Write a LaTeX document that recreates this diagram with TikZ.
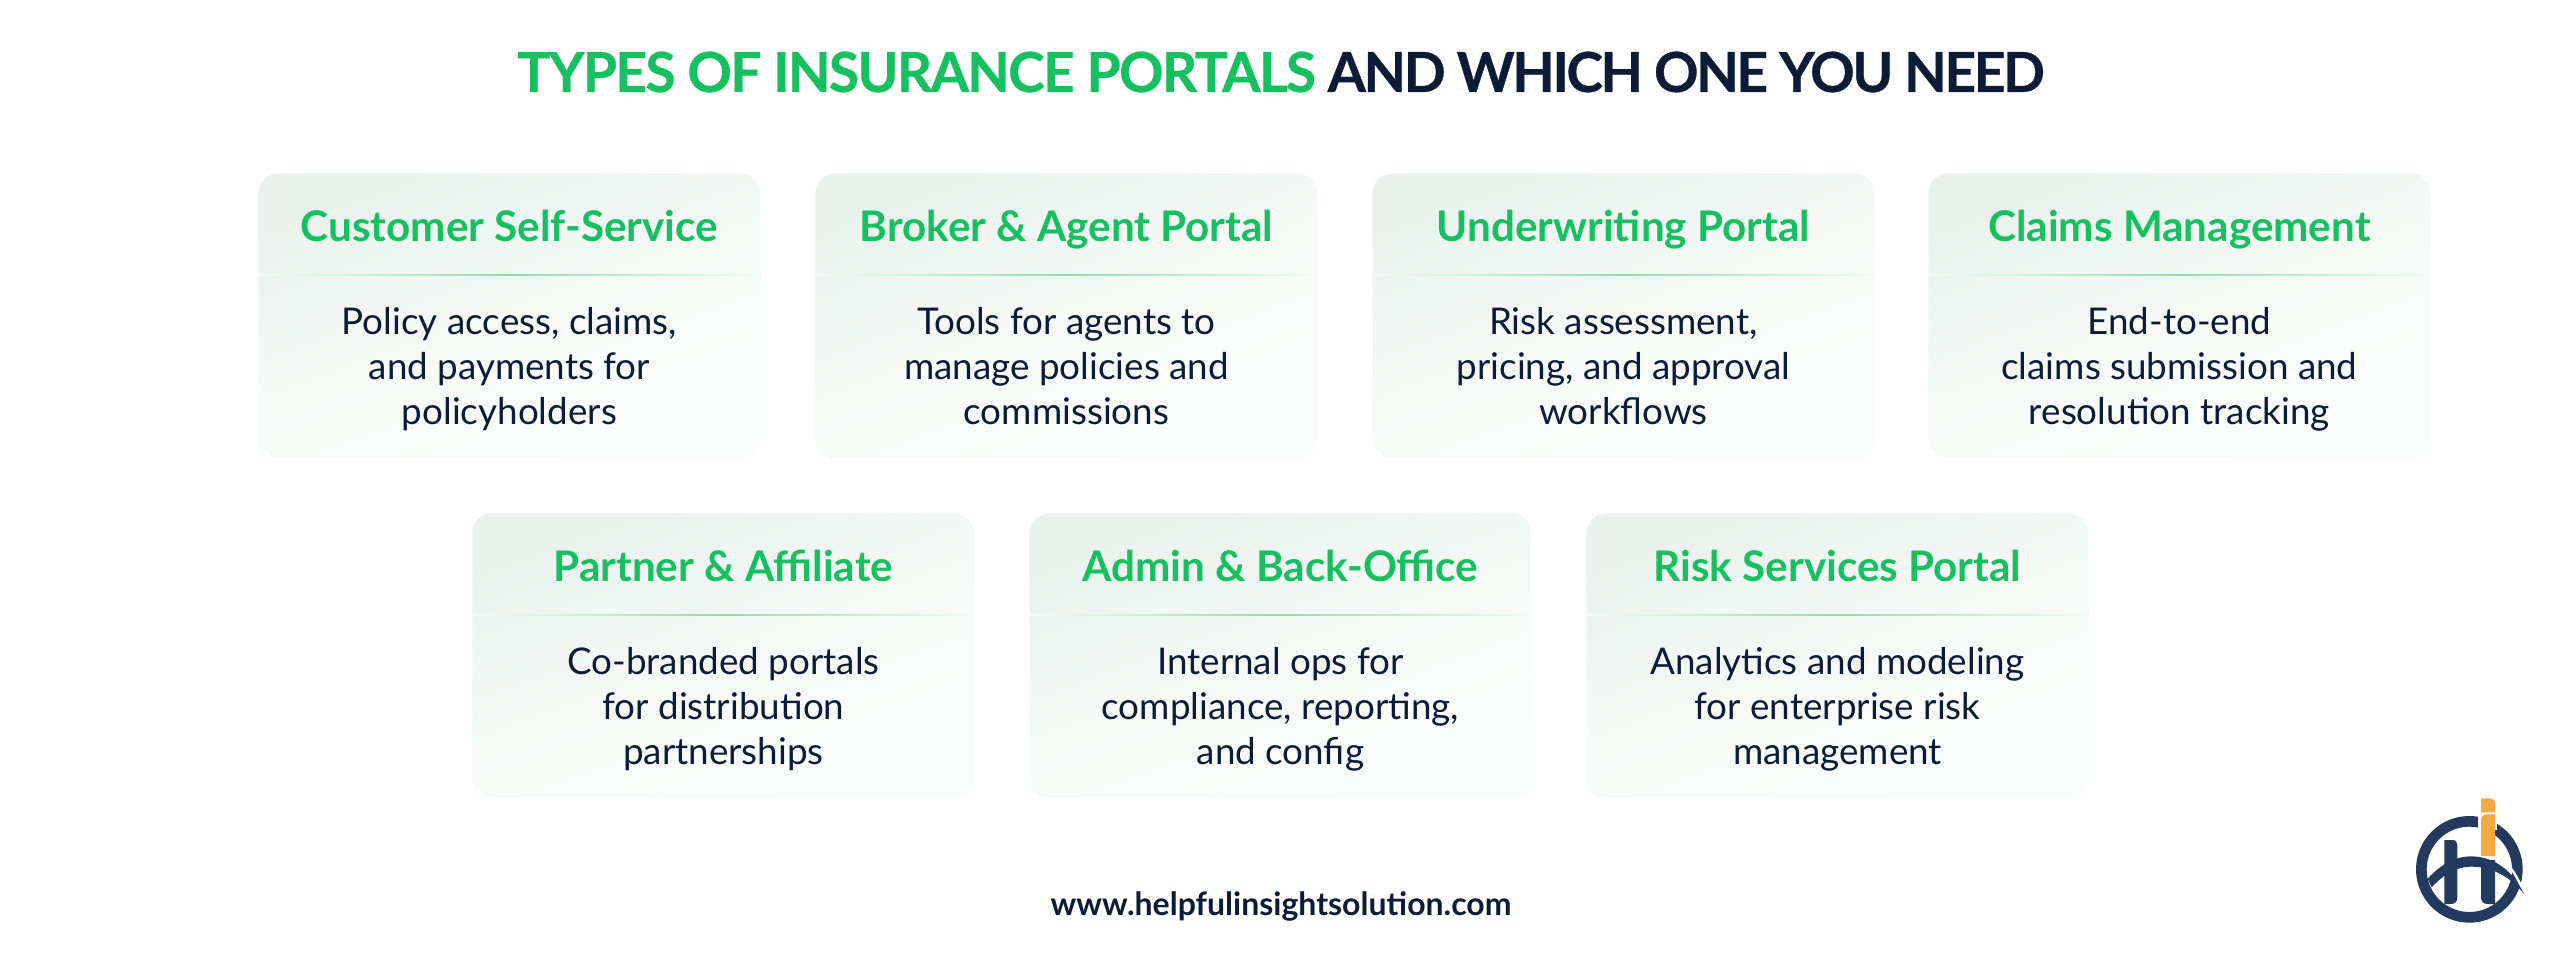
\documentclass[tikz,border=0pt]{standalone}
\usepackage{fontspec}
\setmainfont{Lato}
\newfontfamily\titlegreen[LetterSpace=-3.05,FakeBold=0.5]{Lato Bold}
\newfontfamily\titledark[LetterSpace=-4.4,FakeBold=0.5]{Lato Bold}
\usetikzlibrary{positioning}
\definecolor{grn}{HTML}{16BF5F}
\definecolor{ink}{HTML}{0C1C36}
\definecolor{navy}{HTML}{23395D}
\definecolor{org}{HTML}{F3A93F}
\definecolor{cardA}{HTML}{EAF1ED}
\definecolor{cardB}{HTML}{F5FAF7}
\definecolor{cardC}{HTML}{F9FDFB}
\tikzset{
  x=0.5pt,y=-0.5pt,
  cardbox/.style={anchor=north west,minimum width=251pt,minimum height=142.5pt,inner sep=0pt,rounded corners=10pt,
    top color=cardA,bottom color=cardC,middle color=cardB,shading angle=20},
  cardhead/.style={text=grn,font=\fontsize{21.1}{24}\selectfont\bfseries,inner sep=0pt,anchor=base},
  cardbody/.style={text=ink,font=\fontsize{18.4}{22.5}\selectfont,align=center,inner sep=0pt,anchor=north},
  divline/.style={left color=cardB,right color=cardB,middle color=grn!50!white},
  titletext/.style={inner sep=0pt},
  urltext/.style={font=\fontsize{16}{18}\selectfont\bfseries,text=ink,inner sep=0pt},
}
\newcommand{\card}[6]{%
  \node[cardbox] (#1) at (#2,#3) {};
  \node[cardhead] (#1h) at ([yshift=-34pt]#1.north) {#4};
  \path[divline] ([yshift=-50.5pt]#1.north west) rectangle ([yshift=-51.4pt]#1.north east);
  \node[cardbody] (#1b) at ([yshift=-65pt]#1.north) {\strut #5\\#6\strut};
}
\begin{document}
\begin{tikzpicture}
\useasboundingbox (0,0) rectangle (2560,960);
\fill[white] (0,0) rectangle (2560,960);
\node[titletext] (title) at (1281,72) {\fontsize{27.6}{32}\titlegreen\textcolor{grn}{TYPES OF INSURANCE PORTALS} \fontsize{27.6}{32}\titledark\textcolor{ink}{AND WHICH ONE YOU NEED}};
\card{a}{258}{173}{Customer Self-Service}{Policy access, claims,\\and payments for}{policyholders}
\card{b}{815}{173}{Broker \& Agent Portal}{Tools for agents to\\manage policies and}{commissions}
\card{c}{1372}{173}{Underwriting Portal}{Risk assessment,\\pricing, and approval}{workflows}
\card{d}{1928}{173}{Claims Management}{End-to-end\\claims submission and}{resolution tracking}
\card{e}{472}{513}{Partner \& Affiliate}{Co-branded portals\\for distribution}{partnerships}
\card{f}{1029}{513}{Admin \& Back-Office}{Internal ops for\\compliance, reporting,}{and config}
\card{g}{1586}{513}{Risk Services Portal}{Analytics and modeling\\for enterprise risk}{management}
\node[urltext] (url) at (1281,906) {www.helpfulinsightsolution.com};
% logo
\begin{scope}[shift={(2380,780)},x=0.1666667pt,y=-0.1666667pt]
\fill[navy,even odd rule] (268,268) circle (160) (268,268) circle (128);
\fill[white] (293,90) rectangle (352,150);
\fill[navy] (193,180) -- (218,180) .. controls (228,180) and (232,188) .. (232,198) -- (232,352) .. controls (232,366) and (224,372) .. (212,372) -- (193,372) -- cycle;
\fill[navy] (303,240) -- (345,240) -- (345,372) -- (322,372) .. controls (310,372) and (303,364) .. (303,352) -- cycle;
\draw[white,line width=1.2pt] (345,228) .. controls (380,240) and (410,280) .. (432,342);
\fill[navy] (143,296) .. controls (185,250) and (230,228) .. (275,229) .. controls (345,230) and (400,275) .. (432,342)
  .. controls (395,295) and (340,260) .. (275,260) .. controls (225,260) and (190,285) .. (155,322) -- cycle;
\fill[org] (303,55) -- (330,55) .. controls (340,55) and (345,62) .. (345,72) -- (345,97) -- (303,97) -- cycle;
\fill[org] (303,120) .. controls (303,110) and (310,103) .. (320,103) -- (345,103) -- (345,228) -- (303,228) -- cycle;
\end{scope}
\end{tikzpicture}
\end{document}
